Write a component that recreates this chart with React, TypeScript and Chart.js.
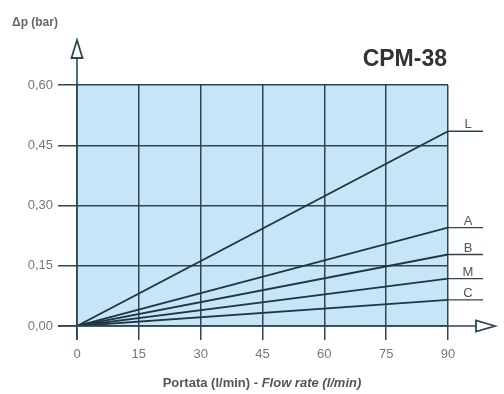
import React, { useEffect, useRef } from "react";
import { Chart, registerables } from "chart.js";

Chart.register(...registerables);

const flowRates = [0, 90];
const curveL = [0, 0.485];
const curveA = [0, 0.245];
const curveB = [0, 0.178];
const curveM = [0, 0.118];
const curveC = [0, 0.065];
const seriesNames = ["L", "A", "B", "M", "C"];
const xTicks = [0, 15, 30, 45, 60, 75, 90];
const yTicks = [0, 0.15, 0.3, 0.45, 0.6];
const title = "CPM-38";
const yTitle = "\u0394p (bar)";
const xTitleA = "Portata (l/min) - ";
const xTitleB = "Flow rate (l/min)";

const DARK = "#2e4654";
const FONT = "'Liberation Sans', Arial, sans-serif";

const decor = {
  id: "decor",
  beforeDraw(chart: any) {
    const { ctx, chartArea: a } = chart;
    ctx.save();
    ctx.fillStyle = "#c6e6f7";
    ctx.fillRect(a.left, a.top, a.right - a.left, a.bottom - a.top);
    ctx.restore();
  },
  afterDraw(chart: any) {
    const { ctx, chartArea: a } = chart;
    const xs = chart.scales.x;
    const ys = chart.scales.y;
    ctx.save();
    ctx.strokeStyle = DARK;
    ctx.lineWidth = 1.6;
    // axes
    ctx.beginPath();
    ctx.moveTo(a.left, a.bottom + 14);
    ctx.lineTo(a.left, a.top - 27);
    ctx.moveTo(a.left - 19, a.bottom);
    ctx.lineTo(a.right + 28, a.bottom);
    ctx.stroke();
    // arrows
    ctx.fillStyle = "#ffffff";
    ctx.lineWidth = 1.8;
    ctx.beginPath();
    ctx.moveTo(a.left, a.top - 45);
    ctx.lineTo(a.left - 5.5, a.top - 27);
    ctx.lineTo(a.left + 5.5, a.top - 27);
    ctx.closePath();
    ctx.fill();
    ctx.stroke();
    ctx.beginPath();
    ctx.moveTo(a.right + 47, a.bottom);
    ctx.lineTo(a.right + 28, a.bottom - 5.5);
    ctx.lineTo(a.right + 28, a.bottom + 5.5);
    ctx.closePath();
    ctx.fill();
    ctx.stroke();
    // series end labels
    const ends = [curveL, curveA, curveB, curveM, curveC];
    ctx.lineWidth = 1.4;
    ctx.font = `13px ${FONT}`;
    ctx.fillStyle = "#555";
    ctx.textAlign = "center";
    ctx.textBaseline = "alphabetic";
    ends.forEach((arr, i) => {
      const px = xs.getPixelForValue(flowRates[flowRates.length - 1]);
      const py = ys.getPixelForValue(arr[arr.length - 1]);
      ctx.beginPath();
      ctx.moveTo(px, py);
      ctx.lineTo(px + 35, py);
      ctx.stroke();
      ctx.fillText(seriesNames[i], px + 20, py - 3);
    });
    // titles
    ctx.fillStyle = "#333";
    ctx.font = `bold 23px ${FONT}`;
    ctx.textAlign = "right";
    ctx.fillText(title, a.right - 1, 66);
    ctx.fillStyle = "#666";
    ctx.font = `bold 12px ${FONT}`;
    ctx.textAlign = "left";
    ctx.fillText(yTitle, 12, 26);
    ctx.fillStyle = "#555";
    ctx.font = `bold 13px ${FONT}`;
    const wA = ctx.measureText(xTitleA).width;
    ctx.font = `italic bold 13px ${FONT}`;
    const wB = ctx.measureText(xTitleB).width;
    const startX = 262 - (wA + wB) / 2;
    ctx.font = `bold 13px ${FONT}`;
    ctx.fillText(xTitleA, startX, 387);
    ctx.font = `italic bold 13px ${FONT}`;
    ctx.fillText(xTitleB, startX + wA, 387);
    ctx.restore();
  },
};

export default function App() {
  const ref = useRef<HTMLCanvasElement | null>(null);
  useEffect(() => {
    document.body.style.margin = "0";
    const mk = (label: string, arr: number[]) => ({
      label,
      data: flowRates.map((x, i) => ({ x, y: arr[i] })),
      borderColor: "#1f3644",
      borderWidth: 1.8,
      pointRadius: 0,
      fill: false,
      tension: 0,
    });
    const chart = new Chart(ref.current as HTMLCanvasElement, {
      type: "line",
      data: {
        datasets: [
          mk("L", curveL),
          mk("A", curveA),
          mk("B", curveB),
          mk("M", curveM),
          mk("C", curveC),
        ],
      },
      options: {
        animation: false,
        responsive: false,
        layout: { padding: { top: 85, right: 56, left: 0, bottom: 0 } },
        plugins: { legend: { display: false }, tooltip: { enabled: false } },
        scales: {
          x: {
            type: "linear",
            min: 0,
            max: 90,
            afterFit: (s: any) => {
              s.height = 68;
            },
            afterBuildTicks: (s: any) => {
              s.ticks = xTicks.map((v) => ({ value: v }));
            },
            border: { display: false },
            grid: { color: DARK, lineWidth: 1.5, tickLength: 14, drawTicks: true },
            ticks: {
              color: "#777",
              font: { family: FONT, size: 13 },
              padding: 7,
              maxRotation: 0,
            },
          },
          y: {
            type: "linear",
            min: 0,
            max: 0.6,
            afterFit: (s: any) => {
              s.width = 77;
            },
            afterBuildTicks: (s: any) => {
              s.ticks = yTicks.map((v) => ({ value: v }));
            },
            border: { display: false },
            grid: { color: DARK, lineWidth: 1.5, tickLength: 19, drawTicks: true },
            ticks: {
              color: "#777",
              font: { family: FONT, size: 13 },
              padding: 5,
              callback: (v: any) => Number(v).toFixed(2).replace(".", ","),
            },
          },
        },
      },
      plugins: [decor],
    } as any);
    return () => chart.destroy();
  }, []);
  return <canvas ref={ref} width={504} height={394} style={{ display: "block" }} />;
}
